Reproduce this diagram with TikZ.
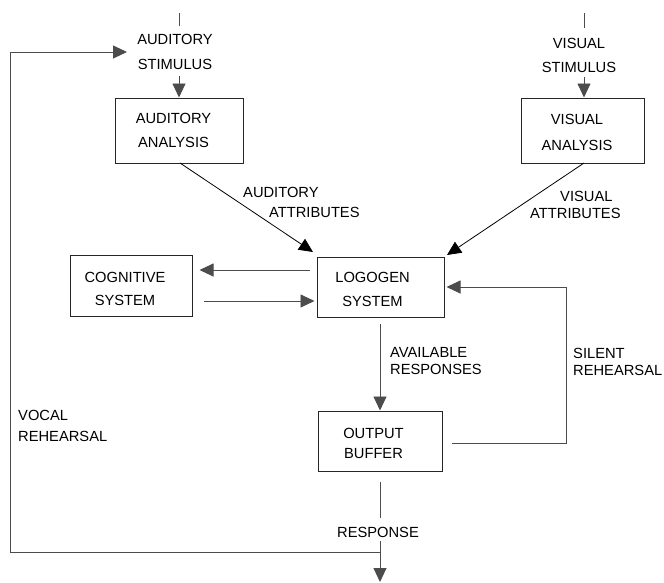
\documentclass[tikz,border=0pt]{standalone}
\usepackage{fontspec}
\setmainfont{Liberation Sans}
\usetikzlibrary{arrows.meta,calc}

\begin{document}
\begin{tikzpicture}[x=1pt,y=-1pt,
  every node/.style={inner sep=0pt},
  txt/.style={font=\fontsize{14.7}{24}\selectfont, align=center},
  lbl/.style={font=\fontsize{14.7}{17}\selectfont, align=left, anchor=west},
  box/.style={draw=black!85, line width=1pt},
  wire/.style={draw=black!70, line width=0.9pt},
  arr/.style={wire, -{Triangle[length=14pt,width=13pt]}}
]
\useasboundingbox (0,0) rectangle (664,582);

% boxes
\node[box, minimum width=128pt, minimum height=65pt] (audbox) at (179,130.5) {};
\node[box, minimum width=123pt, minimum height=65pt] (visbox) at (582.5,130.5) {};
\node[box, minimum width=122pt, minimum height=61pt] (cogbox) at (131,285.5) {};
\node[box, minimum width=127pt, minimum height=60pt] (logbox) at (380.5,287) {};
\node[box, minimum width=124pt, minimum height=60pt] (outbox) at (380,441) {};

% box captions
\node[txt] (audboxt) at (173.5,130.5) {AUDITORY\\ANALYSIS};
\node[txt, font=\fontsize{14.7}{26}\selectfont] (visboxt) at (577,132) {VISUAL\\ANALYSIS};
\node[txt, font=\fontsize{14.7}{23}\selectfont] (cogboxt) at (125,288.5) {COGNITIVE\\SYSTEM};
\node[txt] (logboxt) at (372.5,289) {LOGOGEN\\SYSTEM};
\node[txt, font=\fontsize{14.7}{20}\selectfont] (outboxt) at (373.5,443) {OUTPUT\\BUFFER};

% stimuli
\node[txt, font=\fontsize{14.7}{25}\selectfont] (audstim) at (175,51.5) {AUDITORY\\STIMULUS};
\node[txt] (visstim) at (579,55) {VISUAL\\STIMULUS};
\coordinate (audtop) at (179,13);
\coordinate (audtick) at (179,26);
\coordinate (audin) at (179,76);
\coordinate (vistop) at (584,13);
\coordinate (vistick) at (584,28);
\coordinate (visin) at (584,77);
\draw[wire] (audtop) -- (audtick);
\draw[wire] (vistop) -- (vistick);
\draw[arr] (audin) -- (audbox.north);
\draw[arr] (visin) -- (visin |- visbox.north);

% attributes
\node[lbl, font=\fontsize{14.7}{20}\selectfont] (audattrA) at (243,192) {AUDITORY};
\node[lbl] (audattrB) at (269,212) {ATTRIBUTES};
\node[lbl] (visattrA) at (560,196) {VISUAL};
\node[lbl] (visattrB) at (530,213) {ATTRIBUTES};
\coordinate (audout) at (180,163);
\coordinate (audtip) at (313,252);
\coordinate (visout) at (584,163);
\coordinate (vistip) at (447,255);
\draw[arr, draw=black, line width=0.8pt] (audout) -- (audtip);
\draw[arr, draw=black, line width=0.8pt] (visout) -- (vistip);

% cognitive system links
\draw[arr] ($(logbox.west)+(-7,-17)$) -- ($(cogbox.east)+(7,-15.5)$);
\draw[arr] ($(cogbox.east)+(11,15.5)$) -- ($(logbox.west)+(-2,14)$);

% available responses
\node[lbl] (avail) at (390,361.5) {AVAILABLE\\RESPONSES};
\draw[arr] ($(logbox.south)+(-0.5,6)$) -- (outbox.north);

% silent rehearsal
\node[lbl] (silent) at (573,361.5) {SILENT\\REHEARSAL};
\coordinate (silcorner) at (566,443);
\draw[arr] ($(outbox.east)+(9,2)$) -- (silcorner) |- ($(logbox.east)+(2,0)$);

% response and vocal rehearsal
\node[txt] (resp) at (378,532) {RESPONSE};
\node[lbl, font=\fontsize{14.7}{21}\selectfont] (vocal) at (18,425.5) {VOCAL\\REHEARSAL};
\coordinate (respjoin) at (380,552);
\coordinate (respend) at (380,582);
\coordinate (loopcorner) at (10,552);
\coordinate (looptip) at (127,52);
\draw[wire] ($(outbox.south)+(0,10)$) -- (380,518);
\draw[arr] (380,541) -- (respend);
\draw[arr] (respjoin) -- (loopcorner) |- (looptip);
\end{tikzpicture}
\end{document}
